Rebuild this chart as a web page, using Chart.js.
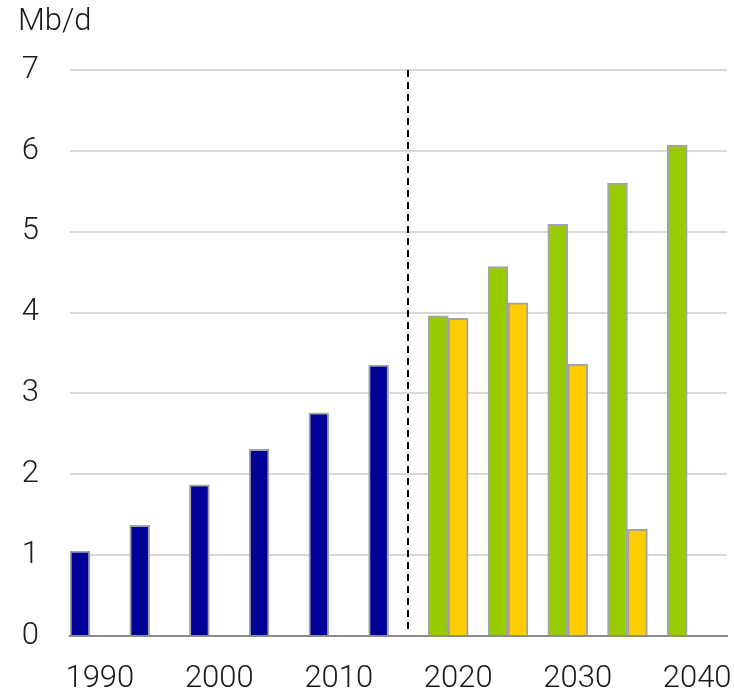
<!DOCTYPE html>
<html>
<head>
<meta charset="utf-8">
<script src="https://cdn.jsdelivr.net/npm/chart.js@4"></script>
<style>
  html, body { margin: 0; padding: 0; background: #fff; }
  #wrap { width: 734px; height: 693px; }
</style>
</head>
<body>
<div id="wrap"><canvas id="chart"></canvas></div>
<script>
// Данные
const years = ['1990', '1995', '2000', '2005', '2010', '2015', '2020', '2025', '2030', '2035', '2040'];
const historical = [1.05, 1.37, 1.87, 2.31, 2.76, 3.35, null, null, null, null, null];
const scenarioGreen = [null, null, null, null, null, null, 3.96, 4.57, 5.09, 5.60, 6.07];
const scenarioYellow = [null, null, null, null, null, null, 3.93, 4.12, 3.36, 1.32, null];
const yTicks = [0, 1, 2, 3, 4, 5, 6, 7];
const unitLabel = 'Mb/d';
const forecastIndex = 6; // первая прогнозная категория

const FONT = { family: 'Roboto, "Liberation Sans", sans-serif', size: 31, weight: '300' };
const TEXT = '#1a1a1a';
const EDGE = '#a3a3a3';

// Вертикальная пунктирная линия и подпись единиц
const extras = {
    id: 'extras',
    afterDraw(chart) {
        const { ctx, chartArea, scales } = chart;
        const x = scales.x;
        // граница между историей и прогнозом: после второго слота категории 2015
        const xPos = x.getPixelForValue(forecastIndex - 1 - 0.5 + 2 / 3);
        ctx.save();
        ctx.strokeStyle = '#000';
        ctx.lineWidth = 2;
        ctx.setLineDash([7, 5]);
        ctx.beginPath();
        ctx.moveTo(Math.round(xPos), chartArea.top);
        ctx.lineTo(Math.round(xPos), chartArea.bottom - 5);
        ctx.stroke();
        ctx.restore();

        ctx.save();
        ctx.fillStyle = TEXT;
        ctx.font = FONT.weight + ' ' + FONT.size + 'px ' + FONT.family;
        ctx.textBaseline = 'middle';
        ctx.textAlign = 'left';
        ctx.fillText(unitLabel, 18, 22);
        ctx.restore();
    }
};

const ctx = document.getElementById('chart').getContext('2d');
new Chart(ctx, {
    type: 'bar',
    data: {
        labels: years,
        datasets: [
            {
                label: 'Historical',
                data: historical,
                backgroundColor: '#000099',
                borderColor: EDGE,
                borderWidth: 2,
                stack: 'a'
            },
            {
                label: 'Scenario A',
                data: scenarioGreen,
                backgroundColor: '#99cc00',
                borderColor: EDGE,
                borderWidth: 2,
                stack: 'a'
            },
            {
                label: 'Scenario B',
                data: scenarioYellow,
                backgroundColor: '#ffcc00',
                borderColor: EDGE,
                borderWidth: 2,
                stack: 'b'
            },
            {
                // пустой слот справа в каждой категории
                label: '',
                data: years.map(() => null),
                stack: 'c'
            }
        ]
    },
    options: {
        responsive: true,
        maintainAspectRatio: false,
        animation: false,
        categoryPercentage: 1,
        barPercentage: 1,
        layout: {
            padding: { top: 70, right: 7, left: 0, bottom: 0 }
        },
        scales: {
            x: {
                grid: { display: false },
                border: { display: true, color: '#8c8c8c', width: 2 },
                ticks: {
                    autoSkip: false,
                    maxRotation: 0,
                    padding: 17,
                    color: TEXT,
                    font: FONT,
                    callback: function(value, index) {
                        return index % 2 === 0 ? years[index] : '';
                    }
                },
                afterFit(scale) {
                    scale.height = 57;
                    scale.paddingLeft = 0;
                    scale.paddingRight = 0;
                }
            },
            y: {
                min: 0,
                max: 7,
                afterBuildTicks(scale) {
                    scale.ticks = yTicks.map(v => ({ value: v }));
                },
                grid: {
                    color: '#d9d9d9',
                    lineWidth: 2,
                    drawTicks: false
                },
                border: { display: false },
                ticks: {
                    padding: 31,
                    color: TEXT,
                    font: FONT
                },
                afterFit(scale) { scale.width = 70; }
            }
        },
        plugins: {
            legend: { display: false },
            tooltip: { enabled: false }
        }
    },
    plugins: [extras]
});
</script>
</body>
</html>
